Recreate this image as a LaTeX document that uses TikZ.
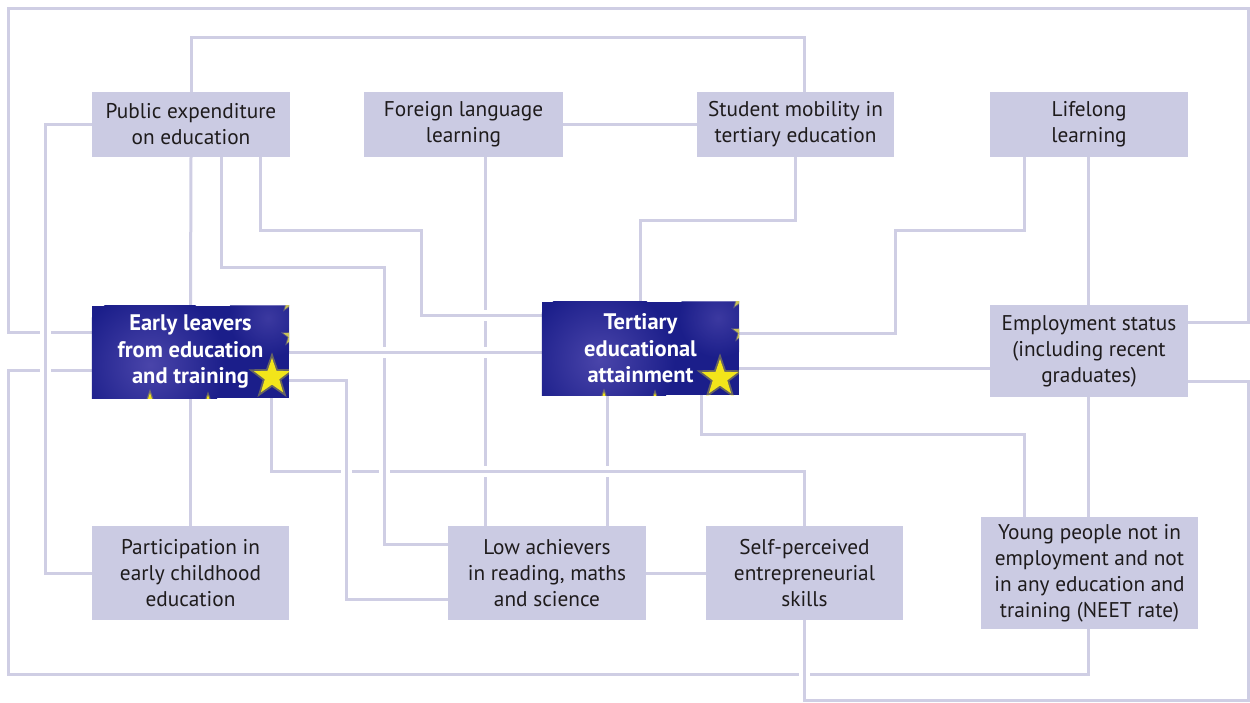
\documentclass[tikz,border=0pt]{standalone}
\usepackage{fontspec}
\setmainfont{PT Sans}
\definecolor{ln}{HTML}{CFCEE4}
\definecolor{bx}{HTML}{CBCBE3}
\definecolor{tx}{HTML}{1E1B1C}
\definecolor{dk}{HTML}{1B1E8A}
\definecolor{glow}{HTML}{4A45AA}
\definecolor{st}{HTML}{F2E51A}
\definecolor{st2}{HTML}{C9C25A}
\pgfdeclarelayer{bg}\pgfdeclarelayer{mid}\pgfsetlayers{bg,mid,main}
\newcommand\eustar[3]{\fill[shift={(#1,#2)}] (-90:#3) -- (-54:{0.4*#3}) -- (-18:#3) -- (18:{0.4*#3}) -- (54:#3) -- (90:{0.4*#3}) -- (126:#3) -- (162:{0.4*#3}) -- (198:#3) -- (234:{0.4*#3}) -- cycle;}
\newcommand\softstar[4]{\begin{scope}[fill=#4]\eustar{#1}{#2}{#3}\end{scope}\begin{scope}[fill=#4,opacity=0.35]\eustar{#1}{#2}{1.3*#3}\end{scope}}
\begin{document}
\begin{tikzpicture}[x=1pt,y=-1pt,
  conn/.style={draw=ln, line width=3pt},
  over/.style={preaction={draw=white, line width=11pt}},
  lbox/.style={fill=bx, text=tx, align=center, inner sep=0pt, font=\fontsize{21.3}{26}\selectfont},
  dbox/.style={text=white, align=center, inner sep=0pt, font=\bfseries\fontsize{22.5}{26.5}\selectfont},
]
\useasboundingbox (0,0) rectangle (1250,702);

% boxes
\node[lbox, minimum width=198pt, minimum height=65pt] (pub) at (191,124.5) {Public expenditure\\on education};
\node[lbox, minimum width=199pt, minimum height=65pt] (flang) at (463.5,124.5) {Foreign language\\learning};
\node[lbox, minimum width=197pt, minimum height=65pt] (mob) at (795.5,124.5) {Student mobility in\\tertiary education};
\node[lbox, minimum width=198pt, minimum height=65pt] (life) at (1089,124.5) {Lifelong\\learning};
\node[dbox, minimum width=197pt, minimum height=92pt] (early) at (190.5,352) {Early leavers\\from education\\and training};
\node[dbox, minimum width=197pt, minimum height=93pt] (tert) at (640.5,348.5) {Tertiary\\educational\\attainment};
\node[lbox, minimum width=198pt, minimum height=92pt] (emp) at (1089,351) {Employment status\\(including recent\\graduates)};
\node[lbox, minimum width=197pt, minimum height=94pt] (part) at (190.5,573) {Participation in\\early childhood\\education};
\node[lbox, minimum width=198pt, minimum height=94pt] (low) at (547,573) {Low achievers\\in reading, maths\\and science};
\node[lbox, minimum width=197pt, minimum height=94pt] (self) at (804.5,573) {Self-perceived\\entrepreneurial\\skills};
\node[lbox, minimum width=217pt, minimum height=112pt] (neet) at (1089.5,573) {Young people not in\\employment and not\\in any education and\\training (NEET rate)};

% dark box artwork
\begin{pgfonlayer}{mid}
\begin{scope}
  \clip (early.south west) rectangle (early.north east);
  \fill[dk] (early.south west) rectangle (early.north east);
  \shade[inner color=glow, outer color=dk] (150,365) circle (75pt);
  \shade[inner color=glow, outer color=dk, opacity=0.7] (268,318) circle (40pt);
  \softstar{272}{377}{19}{st}
  \softstar{150}{406}{13}{st}
  \softstar{208}{407}{12}{st}
  \softstar{292}{336}{9}{st2}
  \softstar{290}{302}{9}{st2}
\end{scope}
\begin{scope}
  \clip (tert.south west) rectangle (tert.north east);
  \fill[dk] (tert.south west) rectangle (tert.north east);
  \shade[inner color=glow, outer color=dk] (600,360) circle (75pt);
  \shade[inner color=glow, outer color=dk, opacity=0.7] (718,318) circle (40pt);
  \softstar{720}{378}{19}{st}
  \softstar{604}{404}{12}{st}
  \softstar{655}{405}{12}{st}
  \softstar{742}{332}{9}{st2}
  \softstar{740}{299}{9}{st2}
\end{scope}
\end{pgfonlayer}

% connectors
\begin{pgfonlayer}{bg}
\fill[white] (0,0) rectangle (1250,702);
\draw[conn] (early.west |- 0,332) -| (8,8) -| (1248,322) -- (emp.east |- 0,322);
\draw[conn] (early.west |- 0,370) -| (8,674) -| (neet.south -| 1088,0);
\draw[conn, over] (pub.west) -| (45,573) -- (part.west);
\draw[conn] (pub.north) |- (804,37) -- (mob.north -| 804,0);
\draw[conn] (pub.south) -- (early.north);
\draw[conn] (early.south) -- (part.north);
\draw[conn] (flang.south -| 485,0) -- (low.north -| 485,0);
\draw[conn] (tert.south -| 607,0) -- (low.north -| 607,0);
\draw[conn, over] (pub.south -| 260,0) |- (421,230) |- (tert.west |- 0,315);
\draw[conn, over] (early.south -| 271,0) |- (804,471) -- (self.north -| 804,0);
\draw[conn, over] (pub.south -| 221,0) |- (384,267) |- (low.west |- 0,544);
\draw[conn, over] (early.east |- 0,380) -| (346,599) -- (low.west |- 0,599);
\draw[conn, over] (early.east) -- (tert.west |- early.east);
\draw[conn] (flang.east) -- (mob.west);
\draw[conn] (mob.south -| 795,0) |- (640,220) -- (tert.north -| 640,0);
\draw[conn] (life.south -| 1024,0) |- (895,230) |- (tert.east |- 0,333);
\draw[conn] (life.south -| 1088,0) -- (emp.north -| 1088,0);
\draw[conn] (emp.south -| 1088,0) -- (neet.north -| 1088,0);
\draw[conn] (tert.south -| 701,0) |- (1024,434) -- (neet.north -| 1024,0);
\draw[conn] (tert.east |- 0,368) -- (emp.west |- 0,368);
\draw[conn, over] (emp.east |- 0,381) -| (1248,700) -| (self.south -| 804,0);
\draw[conn] (low.east) -- (self.west);
\end{pgfonlayer}
\end{tikzpicture}
\end{document}
